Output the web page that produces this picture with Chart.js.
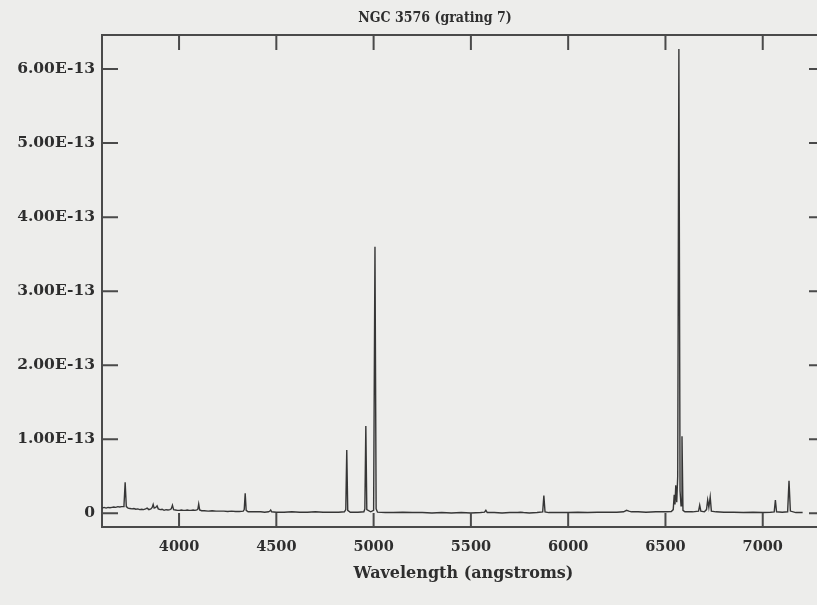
<!DOCTYPE html>
<html>
<head>
<meta charset="utf-8">
<script src="https://cdn.jsdelivr.net/npm/chart.js@4.4.1/dist/chart.umd.min.js"></script>
<style>
  html, body { margin: 0; padding: 0; background: #ededeb; overflow: hidden; }
  #wrap { position: absolute; left: 0; top: 0; width: 840px; height: 605px; }
</style>
</head>
<body>
<div id="wrap"><canvas id="spec" width="840" height="605"></canvas></div>
<script>
// wavelength samples (angstroms)
const wavelength = [
  3604, 3615, 3625, 3635, 3645, 3655, 3665, 3675, 3685, 3695, 3705, 3712, 3717, 3723, 3729,
  3738, 3748, 3758, 3768, 3778, 3788, 3798, 3808, 3818, 3828, 3836, 3845, 3855, 3862, 3867,
  3872, 3880, 3887, 3893, 3903, 3913, 3923, 3933, 3943, 3953, 3960, 3966, 3972, 3982, 3992,
  4002, 4012, 4022, 4032, 4042, 4052, 4062, 4072, 4082, 4092, 4097, 4101, 4106, 4116, 4130,
  4150, 4170, 4190, 4210, 4230, 4250, 4270, 4290, 4310, 4330, 4335, 4340, 4345, 4355, 4380,
  4400, 4420, 4440, 4460, 4467, 4471, 4476, 4500, 4540, 4580, 4620, 4660, 4700, 4740, 4780,
  4820, 4850, 4857, 4862, 4867, 4880, 4920, 4950, 4955, 4960, 4965, 4985, 5000, 5007, 5013,
  5020, 5060, 5100, 5150, 5200, 5250, 5300, 5350, 5400, 5450, 5500, 5550, 5570, 5577, 5584,
  5620, 5660, 5700, 5740, 5755, 5770, 5800, 5840, 5869, 5875, 5881, 5900, 5950, 6000, 6050,
  6100, 6150, 6200, 6250, 6285, 6300, 6312, 6325, 6360, 6400, 6450, 6500, 6530, 6540, 6545,
  6549, 6553, 6558, 6563, 6569, 6575, 6580, 6585, 6590, 6600, 6640, 6670, 6676, 6682, 6700,
  6711, 6717, 6723, 6730, 6736, 6760, 6800, 6850, 6900, 6950, 7000, 7040, 7059, 7065, 7071,
  7100, 7128, 7135, 7142, 7170, 7205
];

// flux, units of 1e-13 erg/s/cm2/A
const flux = [
  0.07, 0.08, 0.07, 0.08, 0.075, 0.08, 0.085, 0.08, 0.09, 0.085, 0.09, 0.09, 0.11, 0.42, 0.09,
  0.07, 0.065, 0.06, 0.065, 0.055, 0.06, 0.05, 0.055, 0.05, 0.06, 0.07, 0.05, 0.06, 0.08, 0.12,
  0.07, 0.08, 0.10, 0.06, 0.05, 0.055, 0.04, 0.05, 0.045, 0.05, 0.06, 0.11, 0.05, 0.045, 0.04,
  0.04, 0.045, 0.04, 0.04, 0.045, 0.04, 0.04, 0.045, 0.04, 0.045, 0.06, 0.125, 0.045, 0.035, 0.035,
  0.03, 0.035, 0.03, 0.03, 0.03, 0.025, 0.03, 0.025, 0.025, 0.03, 0.05, 0.27, 0.04, 0.02, 0.02,
  0.02, 0.02, 0.015, 0.02, 0.03, 0.045, 0.02, 0.015, 0.015, 0.02, 0.015, 0.015, 0.02, 0.015, 0.015,
  0.015, 0.02, 0.05, 0.855, 0.04, 0.015, 0.015, 0.02, 0.06, 1.18, 0.05, 0.02, 0.04, 3.60, 0.06,
  0.015, 0.01, 0.01, 0.015, 0.01, 0.01, 0.005, 0.01, 0.005, 0.01, 0.005, 0.01, 0.015, 0.04, 0.01,
  0.01, 0.005, 0.01, 0.01, 0.015, 0.01, 0.005, 0.01, 0.02, 0.24, 0.02, 0.01, 0.01, 0.01, 0.015,
  0.01, 0.015, 0.015, 0.015, 0.02, 0.04, 0.03, 0.02, 0.02, 0.015, 0.02, 0.02, 0.025, 0.05, 0.25,
  0.12, 0.38, 0.15, 0.5, 6.27, 0.3, 0.1, 1.04, 0.04, 0.02, 0.02, 0.03, 0.11, 0.03, 0.02,
  0.05, 0.18, 0.08, 0.22, 0.03, 0.02, 0.015, 0.015, 0.01, 0.015, 0.01, 0.015, 0.02, 0.18, 0.02,
  0.015, 0.02, 0.44, 0.03, 0.01, 0.01
];

const xTicks = [4000, 4500, 5000, 5500, 6000, 6500, 7000];
const yTicks = [0, 1e-13, 2e-13, 3e-13, 4e-13, 5e-13, 6e-13];
const chartTitle = 'NGC 3576 (grating 7)';

const ink = '#4a4a4a';
const textInk = '#2e2e2e';

// inward tick marks on all four sides
const innerTicks = {
  id: 'innerTicks',
  afterDatasetsDraw(chart) {
    const { ctx, chartArea: a, scales } = chart;
    ctx.save();
    ctx.strokeStyle = ink;
    ctx.lineWidth = 2;
    ctx.beginPath();
    for (const v of xTicks) {
      const px = scales.x.getPixelForValue(v);
      ctx.moveTo(px, a.bottom); ctx.lineTo(px, a.bottom - 14);
      ctx.moveTo(px, a.top); ctx.lineTo(px, a.top + 15);
    }
    for (const v of yTicks) {
      const py = scales.y.getPixelForValue(v);
      ctx.moveTo(a.left, py); ctx.lineTo(a.left + 16, py);
      ctx.moveTo(a.right, py); ctx.lineTo(a.right - 16, py);
    }
    ctx.stroke();
    ctx.restore();
  }
};

// paper background + title (title is centred off the canvas middle in the original)
const paper = {
  id: 'paper',
  beforeDraw(chart) {
    const { ctx, width, height } = chart;
    ctx.save();
    ctx.fillStyle = '#ededeb';
    ctx.fillRect(0, 0, width, height);
    ctx.restore();
  },
  afterDraw(chart) {
    const { ctx } = chart;
    ctx.save();
    ctx.fillStyle = textInk;
    ctx.font = "bold 14px 'DejaVu Serif Condensed', 'Liberation Serif'";
    ctx.textAlign = 'center';
    ctx.textBaseline = 'middle';
    ctx.fillText(chartTitle, 435, 18);
    ctx.restore();
  }
};

new Chart(document.getElementById('spec'), {
  type: 'line',
  data: {
    datasets: [{
      data: wavelength.map((w, i) => ({ x: w, y: flux[i] * 1e-13 })),
      borderColor: '#363636',
      borderWidth: 1.4,
      pointRadius: 0,
      tension: 0
    }]
  },
  options: {
    responsive: false,
    animation: false,
    devicePixelRatio: 1,
    layout: { padding: { left: 0, right: 15, top: 35, bottom: 0 } },
    plugins: {
      legend: { display: false },
      tooltip: { enabled: false },
      title: { display: false }
    },
    scales: {
      x: {
        type: 'linear',
        position: 'bottom',
        min: 3604,
        max: 7320,
        afterBuildTicks: s => { s.ticks = xTicks.map(v => ({ value: v })); },
        afterFit: s => { s.height = 78; },
        grid: { drawOnChartArea: false, drawTicks: false },
        border: { display: true, color: ink, width: 2 },
        ticks: {
          color: textInk,
          font: { family: 'DejaVu Serif', weight: 'bold', size: 14.5 },
          padding: 12,
          maxRotation: 0,
          callback: v => String(v)
        },
        title: {
          display: true,
          text: 'Wavelength (angstroms)',
          color: textInk,
          font: { family: 'DejaVu Serif', weight: 'bold', size: 16 },
          padding: { top: 0, bottom: 22 }
        }
      },
      x2: {
        type: 'linear',
        position: 'top',
        min: 3604,
        max: 7320,
        afterFit: s => { s.height = 0; },
        grid: { drawOnChartArea: false, drawTicks: false },
        border: { display: true, color: ink, width: 2 },
        ticks: { display: false }
      },
      y: {
        type: 'linear',
        position: 'left',
        min: -0.185e-13,
        max: 6.46e-13,
        afterBuildTicks: s => { s.ticks = yTicks.map(v => ({ value: v })); },
        afterFit: s => { s.width = 102; },
        grid: { drawOnChartArea: false, drawTicks: false },
        border: { display: true, color: ink, width: 2 },
        ticks: {
          color: textInk,
          font: { family: 'DejaVu Serif', weight: 'bold', size: 15.5 },
          padding: 7,
          callback: v => v === 0 ? '0' : v.toExponential(2).toUpperCase()
        }
      },
      y2: {
        type: 'linear',
        position: 'right',
        min: -0.185e-13,
        max: 6.46e-13,
        afterFit: s => { s.width = 0; },
        grid: { drawOnChartArea: false, drawTicks: false },
        border: { display: true, color: ink, width: 2 },
        ticks: { display: false }
      }
    }
  },
  plugins: [paper, innerTicks]
});
</script>
</body>
</html>
